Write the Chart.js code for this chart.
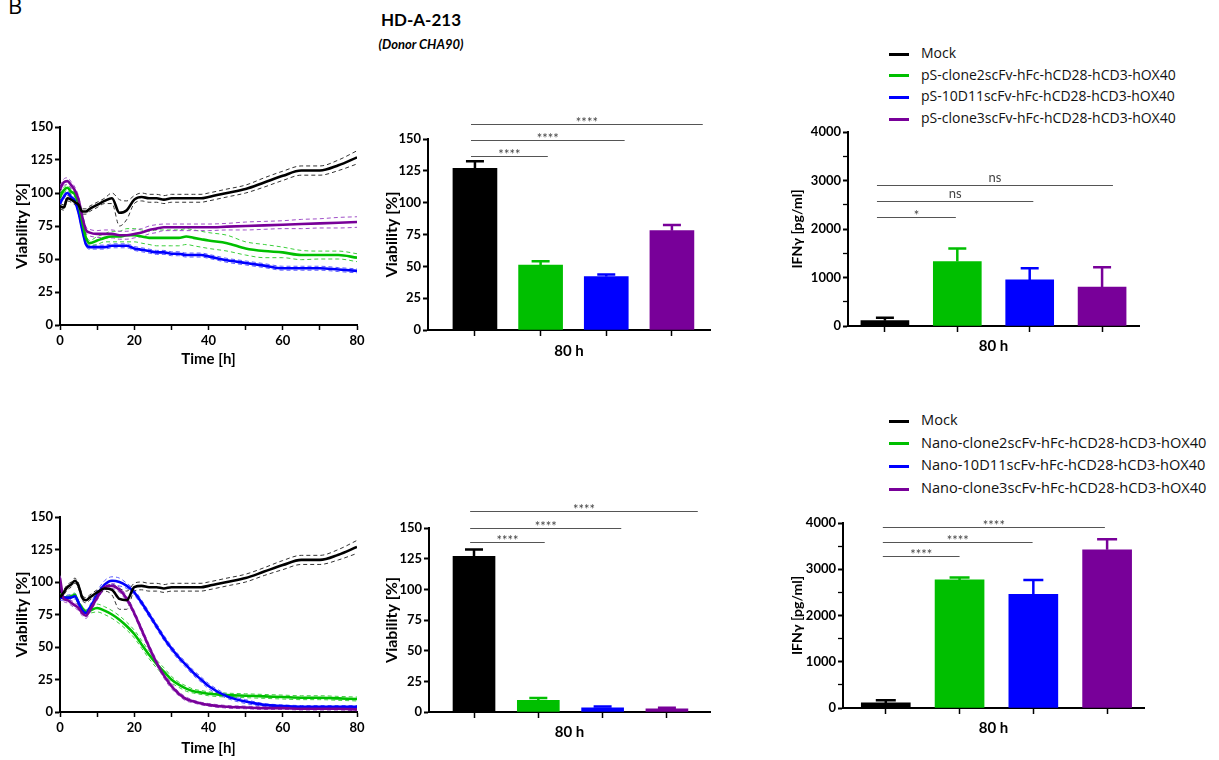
<!DOCTYPE html>
<html>
<head>
<meta charset="utf-8">
<script src="https://cdn.jsdelivr.net/npm/chart.js@4.4.1/dist/chart.umd.min.js"></script>
<style>
  body { margin: 0; width: 1219px; height: 760px; background: #fff; position: relative; overflow: hidden; font-family: 'Open Sans', sans-serif; }
  canvas { position: absolute; }
  .txt { position: absolute; white-space: nowrap; color: #000; }
  .leg { position: absolute; left: 889px; font-family: 'Open Sans', sans-serif; font-size: 14px; color: #111; }
  .leg div { white-space: nowrap; }
  .leg .sw { display: inline-block; width: 20px; height: 3px; vertical-align: middle; margin-right: 12px; }
</style>
</head>
<body>
<div class="txt" style="left:8px;top:-10px;font-size:22px;">B</div>
<div class="txt" style="left:321px;width:200px;text-align:center;top:9px;font-family:Lato;font-weight:bold;font-size:17px;">HD-A-213</div>
<div class="txt" style="left:321px;width:200px;text-align:center;top:36px;font-family:Lato;font-style:italic;font-weight:bold;font-size:13px;">(Donor CHA90)</div>

<div class="leg" id="legTop" style="top:42px;"></div>
<div class="leg" id="legBot" style="top:408px;font-size:14.6px;"></div>

<canvas id="lineTop" width="370" height="273" style="left:0px;top:100px;"></canvas>
<canvas id="barTop" width="360" height="270" style="left:360px;top:100px;"></canvas>
<canvas id="ifnTop" width="380" height="250" style="left:780px;top:120px;"></canvas>
<canvas id="lineBot" width="370" height="270" style="left:0px;top:490px;"></canvas>
<canvas id="barBot" width="360" height="280" style="left:360px;top:480px;"></canvas>
<canvas id="ifnBot" width="380" height="250" style="left:780px;top:510px;"></canvas>

<script>
// tiempo (h)
var timeH = [0,1,2,3,4,5,6,7,8,10,12,14,16,18,20,22,24,26,28,30,32,34,36,38,40,45,50,55,60,65,70,75,80];

// panel superior - viabilidad en el tiempo
var mockTop     = [90,89,96,95,93,91,86,86,88,91,94,96,85,87,95,97,96,96,95,96,96,96,96,96,97,100,103,108,113,117,117,121,127];
var mockTopSd   = [2,2,2,2,2,2,2,2,2,2,2,4,10,7,3,3,3,3,3,3,3,3,3,3,3,3,3,3.5,3.5,3.5,3.5,4,5];
var clone2Top   = [97,102,104,101,99,92,78,66,62,64,66,67,67,68,68,67,66,66,66,66,66,67,66,65,64,62,58,56,55,53,53,53,51];
var clone2TopSd = [2,2,2,2,2,2,2,2,2,3,3,4,4,5,5,5,5,6,6,6,6,6,6,6,6,6,5,5,4,3.5,3,3,3];
var d11Top      = [92,97,100,97,94,85,72,61,59,59,59,60,60,60,58,57,56,55,55,54,54,53,53,53,52,49,47,45,43,43,43,42,41];
var d11TopSd    = [1.5,1.5,1.5,1.5,1.5,1.5,1.5,1.5,1.5,1.5,1.5,1.5,1.5,1.5,1.5,1.5,1.5,1.5,1.5,1.5,1.5,1.5,1.5,1.5,1.5,1.5,1.5,1.5,1.5,1.5,1.5,1.5,1.5];
var clone3Top   = [103,108,109,106,102,95,82,72,70,69,69,69,68,68,69,70,72,73,74,74,74,74,74,74,74,74.5,75,75.5,76,76.5,77,77.5,78];
var clone3TopSd = [2.5,2.5,2.5,2.5,2.5,2.5,2.5,2.5,2.5,2.5,3,3,3,3,3,3,3,3,2.5,2.5,2.5,2.5,2.5,2.5,2.5,2.5,3,3,3,3.5,3.5,4,4];

// panel inferior - viabilidad en el tiempo
var mockBot     = [88,92,96,98,101,97,88,86,88,92,95,94,87,86,96,97,96,96,95,96,96,96,96,96,97,100,103,108,113,117,117,121,127];
var mockBotSd   = [2,2,2,2,2,2,2,2,2,2,2,4,8,7,3,3,3,3,3,3,3,3,3,3,3,3,3,3,3.5,3.5,3.5,4,5];
var clone2Bot   = [90,88,88,89,90,84,80,77,78,80,78,75,71,66,60,52,44,37,31,25,21,18,16,15,14,13,12.5,12,11.5,11,11,10.5,10];
var clone2BotSd = [1.5,1.5,1.5,1.5,1.5,1.5,1.5,1.5,2,3,3,3,3,3,3,3,3,3,3,2.5,2,2,1.5,1.5,1.5,1.5,1.5,1.5,1.5,1.5,1.5,1.5,1.5];
var d11Bot      = [88,88,88,88,89,84,78,76,80,90,98,101,100,97,92,84,75,66,57,49,42,36,30,25,20,12,8,5.5,4.5,4,4,4,4];
var d11BotSd    = [2,2,2,2,2,2,2,2,2,3,3,3,3,2,2,2,2,2,2,2,2,2,2,2,2,1.5,1.5,1,1,1,1,1,1];
var clone3Bot   = [103,87,86,84,82,80,76,74,78,88,96,97,94,87,76,63,50,38,28,20,14,10,8,6.5,5.5,4,3.5,3,3,2.5,2.5,2.5,2];
var clone3BotSd = [2,2,2,2,2,2,2,2,2,2,2,2,2,2,2,2,2,2,2,2,1.5,1.5,1,1,1,1,1,1,1,1,1,1,1];

// barras a 80 h
var viaTopMean = [127, 51, 42, 78];
var viaTopErr  = [5.5, 3, 1.5, 4.5];
var ifnTopMean = [110, 1330, 950, 800];
var ifnTopErr  = [60, 270, 240, 410];
var viaBotMean = [127, 9.5, 3.5, 2.5];
var viaBotErr  = [5.5, 2, 1, 1];
var ifnBotMean = [110, 2770, 2460, 3420];
var ifnBotErr  = [60, 50, 310, 230];

// significancia: [desde, hasta, y, texto]
var sigViaTop = [[-0.06, 1.11, 137, '****'], [-0.06, 2.28, 149, '****'], [-0.06, 3.47, 161.5, '****']];
var sigIfnTop = [[-0.11, 0.98, 2250, '*'], [-0.11, 2.05, 2580, 'ns'], [-0.11, 3.15, 2910, 'ns']];
var sigViaBot = [[-0.06, 1.10, 138.6, '****'], [-0.06, 2.29, 150, '****'], [-0.06, 3.48, 164, '****']];
var sigIfnBot = [[-0.04, 1.0, 3290, '****'], [-0.04, 1.99, 3585, '****'], [-0.04, 2.97, 3920, '****']];

var groupsTop = ['Mock', 'pS-clone2scFv-hFc-hCD28-hCD3-hOX40', 'pS-10D11scFv-hFc-hCD28-hCD3-hOX40', 'pS-clone3scFv-hFc-hCD28-hCD3-hOX40'];
var groupsBot = ['Mock', 'Nano-clone2scFv-hFc-hCD28-hCD3-hOX40', 'Nano-10D11scFv-hFc-hCD28-hCD3-hOX40', 'Nano-clone3scFv-hFc-hCD28-hCD3-hOX40'];

var groupColors = ['#000000', '#00bf00', '#0000ff', '#780099'];
var bandColors  = ['#333333', '#3ccf3c', '#5c5cff', '#a050c8'];

Chart.defaults.font.family = 'Lato';
Chart.defaults.color = '#000';

// leyendas
function buildLegend(id, names, rowH) {
    var el = document.getElementById(id);
    names.forEach(function(n, i) {
        var d = document.createElement('div');
        d.style.height = rowH + 'px';
        d.style.lineHeight = rowH + 'px';
        d.innerHTML = '<span class="sw" style="background:' + groupColors[i] + '"></span>' + n;
        el.appendChild(d);
    });
}
buildLegend('legTop', groupsTop, 21.7);
buildLegend('legBot', groupsBot, 22.7);

function yAxis(max, step, labelEvery, title, titleSize, titlePad, width) {
    return {
        min: 0, max: max,
        ticks: {
            stepSize: step, padding: 2, color: '#000',
            font: { weight: 'bold', size: 13 },
            callback: function(v) { return v % labelEvery === 0 ? v : ''; }
        },
        grid: {
            drawOnChartArea: false, drawTicks: true, tickLength: 5, tickColor: '#000',
            tickWidth: function(ctx) { return ctx.tick && ctx.tick.value % labelEvery === 0 ? 2 : 1.3; }
        },
        border: { display: true, color: '#000', width: 2 },
        title: { display: true, text: title, color: '#000', font: { weight: 'bold', size: titleSize }, padding: { top: titlePad, bottom: 0 } },
        afterFit: function(s) { s.width = width; }
    };
}

function timeAxis(height, titlePad) {
    return {
        type: 'linear', min: 0, max: 80,
        ticks: {
            stepSize: 10, padding: 3, color: '#000', maxRotation: 0,
            font: { weight: 'bold', size: 13 },
            callback: function(v) { return v % 20 === 0 ? v : ''; }
        },
        grid: { drawOnChartArea: false, drawTicks: true, tickLength: 5, tickColor: '#000', tickWidth: 1.5 },
        border: { display: true, color: '#000', width: 2 },
        title: { display: true, text: 'Time [h]', color: '#000', font: { weight: 'bold', size: 15 }, padding: { top: 0, bottom: titlePad } },
        afterFit: function(s) { s.height = height; }
    };
}

function groupAxis(xmin, xmax, height, titlePad) {
    return {
        type: 'linear', min: xmin, max: xmax, offset: false,
        afterBuildTicks: function(s) { s.ticks = [0, 1, 2, 3].map(function(v) { return { value: v }; }); },
        ticks: { callback: function() { return ''; } },
        grid: { offset: false, drawOnChartArea: false, drawTicks: true, tickLength: 6, tickColor: '#000', tickWidth: 1.5 },
        border: { display: true, color: '#000', width: 2 },
        title: { display: true, text: '80 h', color: '#000', font: { weight: 'bold', size: 15 }, padding: { top: 0, bottom: titlePad } },
        afterFit: function(s) { s.height = height; }
    };
}

function lineChart(id, series, pad, xh, xtp) {
    var datasets = [];
    series.forEach(function(s, k) {
        datasets.push({
            data: timeH.map(function(t, i) { return { x: t, y: s.mean[i] }; }),
            borderColor: groupColors[s.c], borderWidth: 2.6, pointRadius: 0, order: k,
            cubicInterpolationMode: 'monotone'
        });
        datasets.push({
            data: timeH.map(function(t, i) { return { x: t, y: s.mean[i] + s.sd[i] }; }),
            borderColor: bandColors[s.c], borderWidth: 1, borderDash: [4, 3], pointRadius: 0, order: 10 + k,
            cubicInterpolationMode: 'monotone'
        });
        datasets.push({
            data: timeH.map(function(t, i) { return { x: t, y: s.mean[i] - s.sd[i] }; }),
            borderColor: bandColors[s.c], borderWidth: 1, borderDash: [4, 3], pointRadius: 0, order: 10 + k,
            cubicInterpolationMode: 'monotone'
        });
    });
    return new Chart(document.getElementById(id), {
        type: 'line',
        data: { datasets: datasets },
        options: {
            responsive: false, animation: false,
            layout: { padding: pad },
            plugins: { legend: { display: false }, tooltip: { enabled: false } },
            scales: {
                x: timeAxis(xh, xtp),
                y: yAxis(150, 12.5, 25, 'Viability [%]', 16, 12, 60)
            }
        }
    });
}

// barras de error y corchetes de significancia
function makeExtras(means, errs, cap, brackets, starSize) {
    return {
        id: 'extras',
        afterDatasetsDraw: function(chart) {
            var ctx = chart.ctx, x = chart.scales.x, y = chart.scales.y;
            ctx.save();
            ctx.lineWidth = 2.5;
            means.forEach(function(m, i) {
                var px = x.getPixelForValue(i);
                var y0 = y.getPixelForValue(m);
                var y1 = y.getPixelForValue(m + errs[i]);
                ctx.strokeStyle = groupColors[i];
                ctx.beginPath();
                ctx.moveTo(px, y0); ctx.lineTo(px, y1);
                ctx.moveTo(px - cap / 2, y1); ctx.lineTo(px + cap / 2, y1);
                ctx.stroke();
            });
            ctx.lineWidth = 1;
            ctx.strokeStyle = '#555';
            ctx.fillStyle = '#444';
            ctx.textAlign = 'center';
            ctx.textBaseline = 'bottom';
            brackets.forEach(function(b) {
                var xa = x.getPixelForValue(b[0]);
                var xb = x.getPixelForValue(b[1]);
                var py = Math.round(y.getPixelForValue(b[2])) + 0.5;
                ctx.beginPath();
                ctx.moveTo(xa, py); ctx.lineTo(xb, py);
                ctx.stroke();
                ctx.font = (b[3] === 'ns' ? '13px' : starSize + 'px') + ' Lato';
                ctx.fillText(b[3], (xa + xb) / 2, py + (b[3] === 'ns' ? -1 : 5));
            });
            ctx.restore();
        }
    };
}

function barChart(id, means, errs, o) {
    return new Chart(document.getElementById(id), {
        type: 'bar',
        data: {
            datasets: [{
                data: means.map(function(v, i) { return { x: i, y: v }; }),
                backgroundColor: groupColors,
                barThickness: o.barW,
                grouped: false
            }]
        },
        options: {
            responsive: false, animation: false,
            layout: { padding: o.pad },
            plugins: { legend: { display: false }, tooltip: { enabled: false } },
            scales: {
                x: groupAxis(o.xmin, o.xmax, o.xh, o.xtp),
                y: o.y
            }
        },
        plugins: [makeExtras(means, errs, o.cap, o.brackets, 13)]
    });
}

lineChart('lineTop', [
    { mean: mockTop, sd: mockTopSd, c: 0 },
    { mean: clone3Top, sd: clone3TopSd, c: 3 },
    { mean: clone2Top, sd: clone2TopSd, c: 1 },
    { mean: d11Top, sd: d11TopSd, c: 2 }
], { top: 27, right: 13, left: 0, bottom: 0 }, 48, 5);

lineChart('lineBot', [
    { mean: mockBot, sd: mockBotSd, c: 0 },
    { mean: clone3Bot, sd: clone3BotSd, c: 3 },
    { mean: d11Bot, sd: d11BotSd, c: 2 },
    { mean: clone2Bot, sd: clone2BotSd, c: 1 }
], { top: 27, right: 13, left: 0, bottom: 0 }, 48, 3);

barChart('barTop', viaTopMean, viaTopErr, {
    barW: 44, cap: 18, xmin: -0.715, xmax: 3.58, xh: 40, xtp: 10,
    pad: { top: 39, right: 10, left: 0, bottom: 0 },
    y: yAxis(150, 12.5, 25, 'Viability [%]', 16, 22, 68),
    brackets: sigViaTop
});

barChart('barBot', viaBotMean, viaBotErr, {
    barW: 42, cap: 18, xmin: -0.70, xmax: 3.67, xh: 48, xtp: 19,
    pad: { top: 48, right: 10, left: 0, bottom: 0 },
    y: yAxis(150, 12.5, 25, 'Viability [%]', 16, 22, 69),
    brackets: sigViaBot
});

barChart('ifnTop', ifnTopMean, ifnTopErr, {
    barW: 48, cap: 18, xmin: -0.51, xmax: 3.51, xh: 44, xtp: 15,
    pad: { top: 12, right: 21, left: 0, bottom: 0 },
    y: yAxis(4000, 500, 1000, 'IFNγ [pg/ml]', 14, 9, 68),
    brackets: sigIfnTop
});

barChart('ifnBot', ifnBotMean, ifnBotErr, {
    barW: 49, cap: 20, xmin: -0.58, xmax: 3.50, xh: 52, xtp: 23,
    pad: { top: 13, right: 16, left: 0, bottom: 0 },
    y: yAxis(4000, 500, 1000, 'IFNγ [pg/ml]', 14, 9, 63),
    brackets: sigIfnBot
});
</script>
</body>
</html>
